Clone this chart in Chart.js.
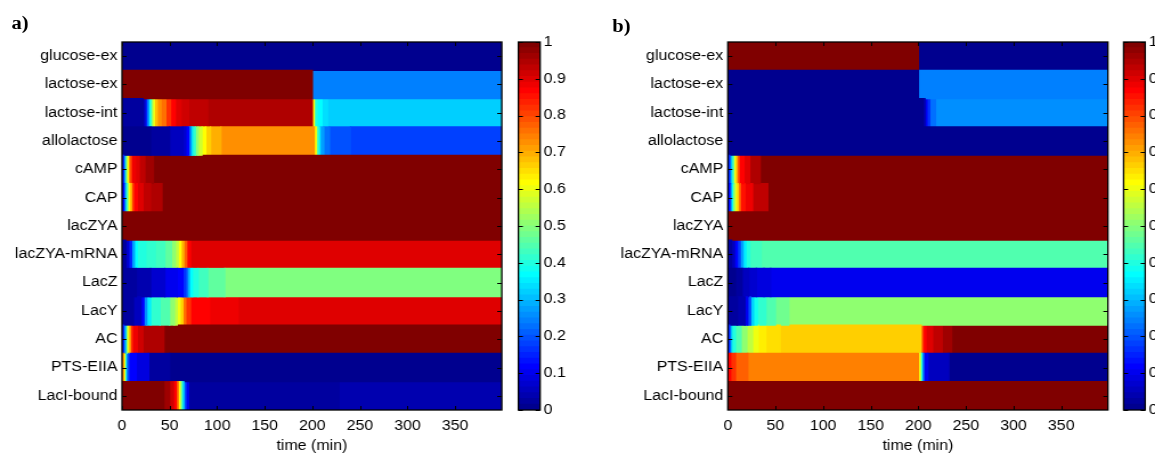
<!DOCTYPE html>
<html>
<head>
<meta charset="utf-8">
<script src="https://cdn.jsdelivr.net/npm/chart.js@4.4.1/dist/chart.umd.min.js"></script>
<style>
  html, body { margin: 0; padding: 0; background: #fff; overflow: hidden; }
  #fig { position: absolute; left: 0; top: 0; width: 1013px; height: 453px;
         transform: scaleX(1.1402); transform-origin: 0 0; }
  #fig canvas { position: absolute; top: 0; }
  .tag { position: absolute; font: bold 18px "Liberation Serif", "Times New Roman", serif;
         line-height: 18px; color: #000; }
</style>
</head>
<body>
<div id="fig">
  <div class="tag" style="left:10px;top:14px">a)</div>
  <div class="tag" style="left:537px;top:17px">b)</div>
  <canvas id="heatA" width="450" height="453" style="left:0"></canvas>
  <canvas id="barA" width="70" height="453" style="left:450px"></canvas>
  <canvas id="heatB" width="460" height="453" style="left:520px"></canvas>
  <canvas id="barB" width="33" height="453" style="left:980px"></canvas>
</div>
<script>
// Species shown as rows, top to bottom
const species = ['glucose-ex', 'lactose-ex', 'lactose-int', 'allolactose', 'cAMP', 'CAP', 'lacZYA',
                 'lacZYA-mRNA', 'LacZ', 'LacY', 'AC', 'PTS-EIIA', 'LacI-bound'];
const timeEnd = 399;                                   // last simulated minute
const timeTicks = [0, 50, 100, 150, 200, 250, 300, 350];
const levelTicks = [0, 0.1, 0.2, 0.3, 0.4, 0.5, 0.6, 0.7, 0.8, 0.9, 1];
const colourLevels = 64;                               // jet(64)

// Normalised levels per species: [segment start (min), level]
// a) lactose medium
const aGlucoseEx   = [[0, 0]];
const aLactoseEx   = [[0, 1], [200, 0.24]];
const aLactoseInt  = [[0, 0.03], [22, 0.06], [24, 0.15], [26, 0.28], [28, 0.38], [30, 0.5], [32, 0.6], [34, 0.68],
                      [37, 0.72], [41, 0.76], [46, 0.82], [51, 0.87], [56, 0.9], [62, 0.92], [70, 0.93], [90, 0.945],
                      [200, 0.62], [202, 0.4], [205, 0.36], [210, 0.33], [216, 0.315]];
const aAllolactose = [[0, 0.01], [30, 0.03], [50, 0.05], [64, 0.07], [67, 0.12], [70, 0.22], [72, 0.33], [74, 0.42],
                      [77, 0.5], [80, 0.57], [84, 0.62], [88, 0.66], [93, 0.69], [104, 0.725], [202, 0.62],
                      [204, 0.45], [206, 0.35], [208, 0.27], [212, 0.22], [218, 0.19], [240, 0.18]];
const aCAMP        = [[0, 0.15], [2, 0.32], [3.5, 0.5], [5, 0.62], [6.5, 0.72], [8, 0.82], [10, 0.88], [14, 0.9],
                      [18, 0.93], [24, 0.96], [33, 1]];
const aCAP         = [[0, 0.12], [2, 0.25], [3.5, 0.4], [5, 0.52], [6.5, 0.62], [8, 0.7], [10, 0.8], [12, 0.87],
                      [16, 0.9], [22, 0.93], [30, 0.95], [42, 1]];
const aLacZYA      = [[0, 1]];
const aLacZYAmRNA  = [[0, 0.02], [4, 0.07], [7, 0.15], [10, 0.27], [13, 0.36], [16, 0.4], [25, 0.41], [35, 0.43],
                      [45, 0.46], [52, 0.5], [56, 0.56], [59, 0.62], [62, 0.7], [65, 0.78], [68, 0.86], [72, 0.9]];
const aLacZ        = [[0, 0.02], [15, 0.04], [30, 0.07], [45, 0.1], [58, 0.12], [64, 0.16], [67, 0.22], [69, 0.3],
                      [71, 0.36], [74, 0.4], [80, 0.43], [90, 0.46], [108, 0.49]];
const aLacY        = [[0, 0.02], [12, 0.05], [20, 0.12], [23, 0.25], [26, 0.35], [30, 0.42], [40, 0.45], [50, 0.5],
                      [55, 0.55], [58, 0.6], [61, 0.66], [64, 0.75], [67, 0.82], [72, 0.87], [92, 0.89], [122, 0.9]];
const aAC          = [[0, 0.15], [2, 0.3], [4, 0.5], [5.5, 0.62], [7, 0.72], [9, 0.83], [11, 0.88], [16, 0.91],
                      [22, 0.94], [44, 1]];
const aPTSEIIA     = [[0, 0.72], [1.5, 0.6], [3, 0.38], [4.5, 0.2], [7, 0.12], [15, 0.09], [28, 0.03], [50, 0.012]];
const aLacIBound   = [[0, 1], [44, 0.96], [50, 0.92], [54, 0.86], [57, 0.75], [59, 0.62], [61, 0.45], [63, 0.32],
                      [65, 0.2], [67, 0.1], [70, 0.025], [228, 0.035]];

// b) glucose + lactose medium
const bGlucoseEx   = [[0, 1], [200, 0]];
const bLactoseEx   = [[0, 0], [200, 0.24]];
const bLactoseInt  = [[0, 0], [205, 0.04], [207, 0.1], [209, 0.17], [212, 0.23], [218, 0.26]];
const bAllolactose = [[0, 0]];
const bCAMP        = [[0, 0.15], [2, 0.3], [4, 0.45], [6, 0.6], [8, 0.7], [10, 0.8], [12, 0.87], [17, 0.9],
                      [23, 0.94], [34, 1]];
const bCAP         = [[0, 0.12], [2, 0.25], [3.5, 0.38], [5, 0.5], [7, 0.6], [9, 0.67], [11, 0.75], [13, 0.85],
                      [18, 0.89], [26, 0.93], [42, 1]];
const bLacZYA      = [[0, 1]];
const bLacZYAmRNA  = [[0, 0.02], [4, 0.06], [7, 0.12], [10, 0.18], [13, 0.27], [16, 0.35], [19, 0.4], [23, 0.43],
                      [35, 0.445]];
const bLacZ        = [[0, 0.01], [8, 0.03], [15, 0.05], [22, 0.07], [30, 0.08], [38, 0.09], [45, 0.1]];
const bLacY        = [[0, 0.02], [10, 0.04], [18, 0.1], [21, 0.2], [24, 0.32], [27, 0.38], [31, 0.42], [40, 0.45],
                      [50, 0.48], [64, 0.51]];
const bAC          = [[0, 0.15], [2, 0.3], [4, 0.4], [8, 0.45], [14, 0.5], [20, 0.55], [26, 0.6], [32, 0.63],
                      [40, 0.65], [55, 0.665], [203, 0.8], [205, 0.87], [208, 0.9], [215, 0.93], [225, 0.96], [235, 1]];
const bPTSEIIA     = [[0, 0.86], [3, 0.82], [8, 0.78], [21, 0.74], [200, 0.6], [202, 0.4], [204, 0.2], [206, 0.1],
                      [210, 0.05], [232, 0.012]];
const bLacIBound   = [[0, 1]];

const rowsA = [aGlucoseEx, aLactoseEx, aLactoseInt, aAllolactose, aCAMP, aCAP, aLacZYA,
               aLacZYAmRNA, aLacZ, aLacY, aAC, aPTSEIIA, aLacIBound];
const rowsB = [bGlucoseEx, bLactoseEx, bLactoseInt, bAllolactose, bCAMP, bCAP, bLacZYA,
               bLacZYAmRNA, bLacZ, bLacY, bAC, bPTSEIIA, bLacIBound];

const FONT = '"Liberation Sans", Arial, Helvetica, sans-serif';

// MATLAB-style jet colormap with a fixed number of levels
function jet(v) {
  const n = colourLevels;
  const i = Math.min(n, Math.floor(Math.max(0, v) * n) + 1);
  const s = n / 4;
  const r = i <= 24 ? 0 : i <= 40 ? (i - 24) / s : i <= 55 ? 1 : (72 - i) / s;
  const g = i <= 8 ? 0 : i <= 24 ? (i - 8) / s : i <= 39 ? 1 : i <= 55 ? (56 - i) / s : 0;
  const b = i <= 8 ? (i + 8) / s : i <= 23 ? 1 : i <= 39 ? (40 - i) / s : 0;
  return `rgb(${Math.round(r * 255)},${Math.round(g * 255)},${Math.round(b * 255)})`;
}

// Black box round the plot area with short inward ticks on every side
const frameTicks = {
  id: 'frameTicks',
  afterDatasetsDraw(chart, args, opts) {
    const { ctx, chartArea: { left, right, top, bottom } } = chart;
    const L = opts.len || 4;
    ctx.save();
    ctx.strokeStyle = '#000';
    ctx.lineWidth = 1;
    ctx.beginPath();
    if (opts.xTicks) {
      const xs = chart.scales.x;
      xs.ticks.forEach((t) => {
        const p = Math.round(xs.getPixelForValue(t.value)) + 0.5;
        ctx.moveTo(p, bottom); ctx.lineTo(p, bottom - L);
        ctx.moveTo(p, top); ctx.lineTo(p, top + L);
      });
    }
    const ys = chart.scales.y;
    ys.ticks.forEach((t, i) => {
      const p = Math.round(ys.getPixelForTick(i)) + 0.5;
      ctx.moveTo(left, p); ctx.lineTo(left + L, p);
      ctx.moveTo(right, p); ctx.lineTo(right - L, p);
    });
    ctx.stroke();
    ctx.lineWidth = 1.3;
    ctx.strokeRect(left, top, right - left, bottom - top);
    ctx.restore();
  }
};

function heatChart(id, rows, axisWidth, padRight) {
  const nSeg = Math.max(...rows.map((r) => r.length));
  const datasets = [];
  for (let k = 0; k < nSeg; k++) {
    datasets.push({
      data: rows.map((r) => (r[k] ? [r[k][0], r[k + 1] ? r[k + 1][0] : timeEnd] : null)),
      backgroundColor: rows.map((r) => (r[k] ? jet(r[k][1]) : 'rgba(0,0,0,0)')),
      borderWidth: 0,
      grouped: false,
      barPercentage: 1,
      categoryPercentage: 1,
      inflateAmount: 0.6
    });
  }
  return new Chart(document.getElementById(id), {
    type: 'bar',
    data: { labels: species, datasets },
    options: {
      indexAxis: 'y',
      responsive: false,
      animation: false,
      events: [],
      layout: { padding: { top: 42, right: padRight, bottom: 0, left: 0 } },
      plugins: { legend: { display: false }, tooltip: { enabled: false }, frameTicks: { xTicks: true, len: 4 } },
      scales: {
        x: {
          type: 'linear', min: 0, max: timeEnd,
          grid: { display: false, drawTicks: false },
          border: { display: false },
          ticks: { padding: 8, maxRotation: 0, color: '#000', font: { family: FONT, size: 14 } },
          afterBuildTicks(s) { s.ticks = timeTicks.map((v) => ({ value: v })); },
          title: { display: true, text: 'time (min)', color: '#000', padding: 0,
                   font: { family: FONT, size: 14, lineHeight: 1 } },
          afterFit(s) { s.height = 43; }
        },
        y: {
          grid: { display: false, drawTicks: false },
          border: { display: false },
          ticks: { padding: 4, color: '#000', font: { family: FONT, size: 14 } },
          afterFit(s) { s.width = axisWidth; }
        }
      }
    },
    plugins: [frameTicks]
  });
}

function colourBar(id, padLeft, axisWidth) {
  const datasets = [];
  for (let i = 0; i < colourLevels; i++) {
    datasets.push({
      data: [[i / colourLevels, (i + 1) / colourLevels]],
      backgroundColor: jet((i + 0.5) / colourLevels),
      borderWidth: 0, grouped: false, barPercentage: 1, categoryPercentage: 1, inflateAmount: 0.6
    });
  }
  return new Chart(document.getElementById(id), {
    type: 'bar',
    data: { labels: [''], datasets },
    options: {
      responsive: false,
      animation: false,
      events: [],
      layout: { padding: { top: 42, right: 0, bottom: 43, left: padLeft } },
      plugins: { legend: { display: false }, tooltip: { enabled: false }, frameTicks: { xTicks: false, len: 4 } },
      scales: {
        x: { display: false },
        y: {
          type: 'linear', position: 'right', min: 0, max: 1,
          grid: { display: false, drawTicks: false },
          border: { display: false },
          afterBuildTicks(s) { s.ticks = levelTicks.map((v) => ({ value: v })); },
          ticks: { padding: 3, color: '#000', font: { family: FONT, size: 14 },
                   callback: (v) => String(Math.round(v * 10) / 10) },
          afterFit(s) { s.width = axisWidth; }
        }
      }
    },
    plugins: [frameTicks]
  });
}

heatChart('heatA', rowsA, 107, 9.9);
colourBar('barA', 4.6, 46.3);
heatChart('heatB', rowsB, 118.3, 8.3);
colourBar('barB', 5.4, 8.6);
</script>
</body>
</html>
